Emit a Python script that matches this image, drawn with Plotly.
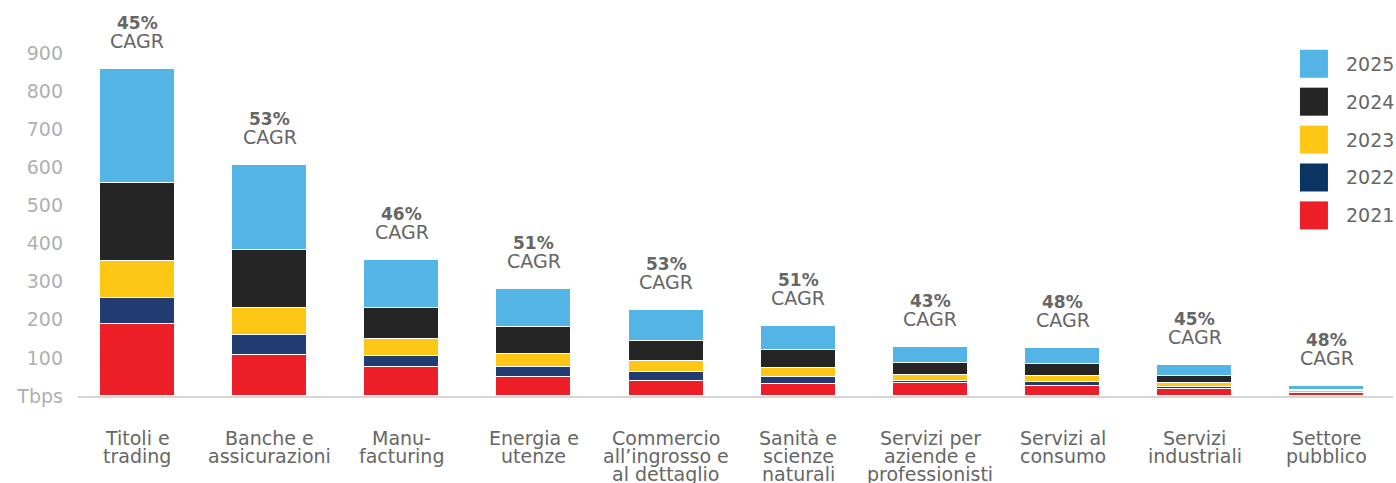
import plotly.graph_objects as go

# categories (x axis), one string per label, lines split by "|"
sectors = ["Titoli e|trading", "Banche e|assicurazioni", "Manu-|facturing",
           "Energia e|utenze", "Commercio|all’ingrosso e|al dettaglio",
           "Sanità e|scienze|naturali", "Servizi per|aziende e|professionisti",
           "Servizi al|consumo", "Servizi|industriali", "Settore|pubblico"]

# stacked values per year (Tbps)
v2021 = [190, 107, 76, 50, 39, 31, 34, 26, 18, 7]
v2022 = [68, 52, 28, 26, 24, 19, 5, 11, 5, 2]
v2023 = [97, 73, 45, 34, 28, 23, 16, 15, 11, 3]
v2024 = [204, 152, 83, 70, 53, 47, 31, 32, 18, 5]
v2025 = [298, 222, 126, 102, 83, 65, 42, 41, 29, 8]

cagr = ["45%", "53%", "46%", "51%", "53%", "51%", "43%", "48%", "45%", "48%"]

years = ["2021", "2022", "2023", "2024", "2025"]
series = [v2021, v2022, v2023, v2024, v2025]
colors = ["#EC1E28", "#223B73", "#FEC615", "#252525", "#52B5E5"]
legend_colors = ["#EC1E28", "#0A3462", "#FEC615", "#252525", "#52B5E5"]

ytick_vals = [0, 100, 200, 300, 400, 500, 600, 700, 800, 900]
ytick_text = ["Tbps", "100", "200", "300", "400", "500", "600", "700", "800", "900"]

FONT = "DejaVu Sans"
TXT = "#666666"
xpos = list(range(len(sectors)))

fig = go.Figure()
for yr, vals, col in zip(years, series, colors):
    fig.add_trace(go.Bar(
        x=xpos, y=vals, name=yr,
        marker_color=col,
        marker_line_color="#FFFFFF", marker_line_width=1.5,
        width=0.567, showlegend=False,
    ))

# CAGR labels above each stack
totals = [sum(s) for s in zip(*series)]
for i, (t, c) in enumerate(zip(totals, cagr)):
    fig.add_annotation(x=i, y=t, text="<b>" + c + "</b>",
                       showarrow=False, yanchor="middle", yshift=46,
                       font=dict(family=FONT, size=17, color=TXT))
    fig.add_annotation(x=i, y=t, text="CAGR",
                       showarrow=False, yanchor="middle", yshift=28,
                       font=dict(family=FONT, size=19, color=TXT))

# category labels, one annotation per line for the tight leading
for i, name in enumerate(sectors):
    for j, line in enumerate(name.split("|")):
        fig.add_annotation(x=i, y=0, xref="x", yref="paper", text=line,
                           showarrow=False, yanchor="middle",
                           yshift=-42 - 18 * j,
                           font=dict(family=FONT, size=19, color=TXT))

# legend drawn as squares + text (top -> bottom: 2025 ... 2021)
for k in range(len(years)):
    idx = len(years) - 1 - k
    yc = 0.872 - 0.0995 * k
    fig.add_shape(type="rect", xref="paper", yref="paper",
                  xsizemode="pixel", ysizemode="pixel",
                  xanchor=0.9399, yanchor=yc, x0=-14, x1=14, y0=-14, y1=14,
                  fillcolor=legend_colors[idx], line_width=0)
    fig.add_annotation(x=0.9627, y=yc, xref="paper", yref="paper",
                       text=years[idx], showarrow=False,
                       xanchor="left", yanchor="middle",
                       font=dict(family=FONT, size=19, color=TXT))

fig.update_xaxes(tickvals=xpos, showticklabels=False,
                 range=[-0.45, 9.5], automargin=False,
                 showgrid=False, zeroline=False,
                 showline=True, linecolor="#D6D6D6", linewidth=1.5,
                 ticks="")
fig.update_yaxes(tickvals=ytick_vals, ticktext=ytick_text,
                 range=[0, 1000], automargin=False,
                 showgrid=False, zeroline=False, showline=False,
                 ticks="", ticklabelstandoff=14,
                 tickfont=dict(family=FONT, size=19, color="#B0B0B0"))

fig.update_layout(barmode="stack",
                  width=1396, height=483,
                  margin=dict(l=78, r=3, t=15, b=87),
                  plot_bgcolor="#FFFFFF", paper_bgcolor="#FFFFFF",
                  font=dict(family=FONT, color=TXT),
                  bargap=0)

# drop the default 8px page margin so the figure fills the window exactly
fig.write_html("out.html",
               config={"displayModeBar": False},
               post_script="document.body.style.margin='0';"
                           "document.body.style.overflow='hidden';")
